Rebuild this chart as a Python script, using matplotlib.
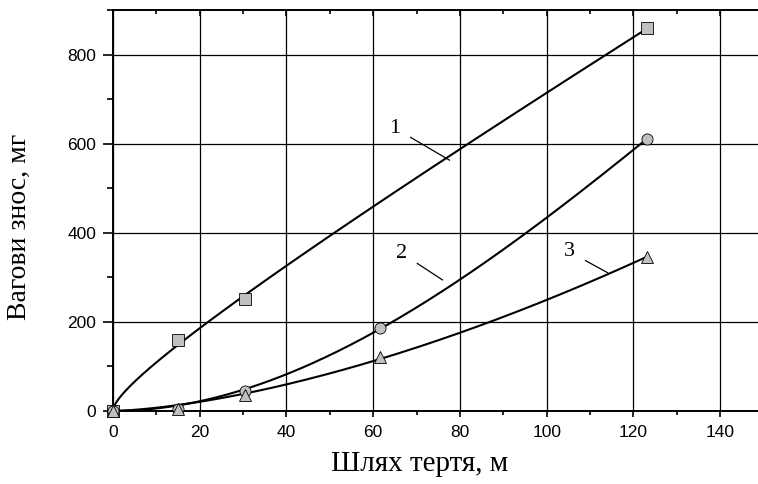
import numpy as np
import matplotlib
matplotlib.use("Agg")
from matplotlib import pyplot as plt
from matplotlib.ticker import MultipleLocator

# Data
path_m = [0, 15, 30.5, 61.5, 123]
wear_1 = [0, 159, 251, None, 859]
wear_2 = [0, 5, 45, 186, 610]
wear_3 = [0, 5, 35, 121, 345]

# Curve labels: (text, text position, leader end)
curve_labels = [("1", (65.0, 635), (77.6, 563)),
                ("2", (66.6, 354), (76.0, 294)),
                ("3", (105.3, 357), (114.1, 310))]

SERIF = ["Liberation Serif", "DejaVu Serif"]
SANS = ["Liberation Sans", "DejaVu Sans"]
MARKER_FACE = "#c0c0c0"

fig = plt.figure(figsize=(7.58, 4.84), dpi=100)
ax = fig.add_axes([0.149, 0.151, 0.851, 0.828])


def fit_curve(x, y, powers):
    """ Least squares fit through the origin, y = sum(c_k * x**p_k). """
    x = np.asarray(x, dtype=float)
    y = np.asarray(y, dtype=float)
    basis = np.column_stack([x ** p for p in powers])
    coef, *_ = np.linalg.lstsq(basis, y, rcond=None)
    xs = np.linspace(0, x.max(), 300)
    return xs, np.column_stack([xs ** p for p in powers]) @ coef


series = [(wear_1, "s", (0.5, 1)), (wear_2, "o", (2, 3)), (wear_3, "^", (1.5, 2))]
for values, marker, powers in series:
    xs = [x for x, v in zip(path_m, values) if v is not None]
    ys = [v for v in values if v is not None]
    cx, cy = fit_curve(xs, ys, powers)
    ax.plot(cx, np.clip(cy, 0, None), color="black", lw=1.5, zorder=3)
    ax.plot(xs, ys, ls="none", marker=marker, ms=8, mfc=MARKER_FACE,
            mec="black", mew=0.6, zorder=4, clip_on=False)

for text, xy_text, xy_end in curve_labels:
    ax.annotate(text, xy=xy_end, xytext=xy_text, fontsize=16, family=SERIF,
                ha="center", va="center",
                arrowprops=dict(arrowstyle="-", lw=0.9, color="black",
                                shrinkA=6, shrinkB=0))

ax.set_xlim(0, 148.7)
ax.set_ylim(0, 900)
ax.xaxis.set_major_locator(MultipleLocator(20))
ax.xaxis.set_minor_locator(MultipleLocator(10))
ax.yaxis.set_major_locator(MultipleLocator(200))
ax.yaxis.set_minor_locator(MultipleLocator(100))
ax.grid(True, which="major", color="black", lw=0.9)
ax.set_axisbelow(True)

ax.spines["right"].set_visible(False)
for side in ("left", "bottom", "top"):
    ax.spines[side].set_linewidth(1.4)

ax.tick_params(axis="x", which="major", direction="out", length=4, width=1.2,
               top=True, labelsize=12.5, pad=6)
ax.tick_params(axis="x", which="minor", direction="out", length=3, width=1.2, top=True)
ax.tick_params(axis="y", which="major", direction="out", length=7, width=1.2,
               labelsize=12.5, pad=5)
ax.tick_params(axis="y", which="minor", direction="out", length=4, width=1.2)
for tick in ax.xaxis.get_major_ticks() + ax.xaxis.get_minor_ticks():
    tick.tick2line.set_marker(matplotlib.lines.TICKDOWN)
for lbl in ax.get_xticklabels() + ax.get_yticklabels():
    lbl.set_family(SANS)

ax.set_xlabel("Шлях тертя, м", fontsize=21, family=SERIF)
ax.set_ylabel("Вагови знос, мг", fontsize=20, family=SERIF)
ax.xaxis.set_label_coords(0.476, -0.1)
ax.yaxis.set_label_coords(-0.125, 0.46)

fig.savefig("out.png", dpi=100)
